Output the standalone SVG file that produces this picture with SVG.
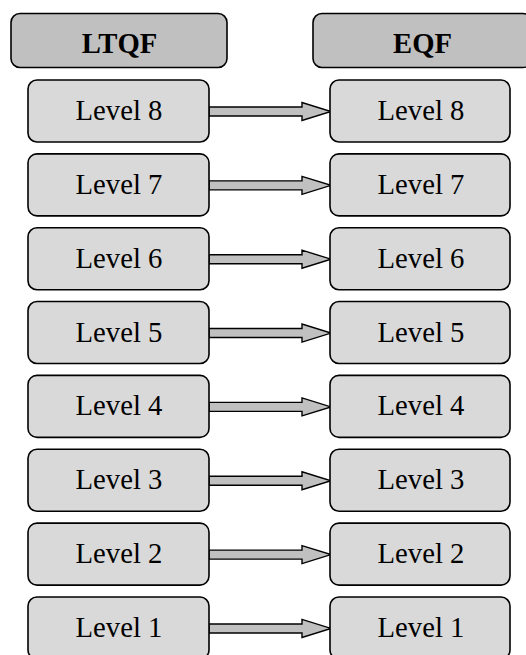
<svg xmlns="http://www.w3.org/2000/svg" width="526" height="655" viewBox="0 0 526 655">
<defs>
<style>
.hdr{fill:#c0c0c0;stroke:#000;stroke-width:1.6}
.box{fill:#d9d9d9;stroke:#000;stroke-width:1.6}
.arr{fill:#c0c0c0;stroke:#000;stroke-width:1.4;stroke-linejoin:miter}
.ht{font-family:"Liberation Serif","Times New Roman",serif;font-weight:bold;font-size:28.7px;text-anchor:middle;fill:#000}
.lt{font-family:"Liberation Serif","Times New Roman",serif;font-size:28.7px;text-anchor:middle;fill:#000}
</style>
<polygon id="arrowShape" class="arr" points="209,27 302,27 302,22.5 331,31.5 302,40.5 302,36 209,36"/>
</defs>
<rect width="526" height="655" fill="#fff"/>
<g id="connectors">
<use href="#arrowShape" transform="translate(0,80)"/>
<use href="#arrowShape" transform="translate(0,153.85)"/>
<use href="#arrowShape" transform="translate(0,227.7)"/>
<use href="#arrowShape" transform="translate(0,301.55)"/>
<use href="#arrowShape" transform="translate(0,375.4)"/>
<use href="#arrowShape" transform="translate(0,449.25)"/>
<use href="#arrowShape" transform="translate(0,523.1)"/>
<use href="#arrowShape" transform="translate(0,596.95)"/>
</g>
<g id="hdr-ltqf"><rect class="hdr" x="11" y="13.5" width="216" height="54" rx="9"/><text class="ht" x="119.5" y="53">LTQF</text></g>
<g id="hdr-eqf"><rect class="hdr" x="313" y="13.5" width="219" height="54" rx="9"/><text class="ht" x="422.5" y="53">EQF</text></g>
<g id="ltqf-8" transform="translate(0,80)"><rect class="box" x="28" y="0" width="181" height="62" rx="9"/><text class="lt" x="119" y="40">Level 8</text></g>
<g id="eqf-8" transform="translate(0,80)"><rect class="box" x="330" y="0" width="180" height="62" rx="9"/><text class="lt" x="421" y="40">Level 8</text></g>
<g id="ltqf-7" transform="translate(0,153.85)"><rect class="box" x="28" y="0" width="181" height="62" rx="9"/><text class="lt" x="119" y="40">Level 7</text></g>
<g id="eqf-7" transform="translate(0,153.85)"><rect class="box" x="330" y="0" width="180" height="62" rx="9"/><text class="lt" x="421" y="40">Level 7</text></g>
<g id="ltqf-6" transform="translate(0,227.7)"><rect class="box" x="28" y="0" width="181" height="62" rx="9"/><text class="lt" x="119" y="40">Level 6</text></g>
<g id="eqf-6" transform="translate(0,227.7)"><rect class="box" x="330" y="0" width="180" height="62" rx="9"/><text class="lt" x="421" y="40">Level 6</text></g>
<g id="ltqf-5" transform="translate(0,301.55)"><rect class="box" x="28" y="0" width="181" height="62" rx="9"/><text class="lt" x="119" y="40">Level 5</text></g>
<g id="eqf-5" transform="translate(0,301.55)"><rect class="box" x="330" y="0" width="180" height="62" rx="9"/><text class="lt" x="421" y="40">Level 5</text></g>
<g id="ltqf-4" transform="translate(0,375.4)"><rect class="box" x="28" y="0" width="181" height="62" rx="9"/><text class="lt" x="119" y="40">Level 4</text></g>
<g id="eqf-4" transform="translate(0,375.4)"><rect class="box" x="330" y="0" width="180" height="62" rx="9"/><text class="lt" x="421" y="40">Level 4</text></g>
<g id="ltqf-3" transform="translate(0,449.25)"><rect class="box" x="28" y="0" width="181" height="62" rx="9"/><text class="lt" x="119" y="40">Level 3</text></g>
<g id="eqf-3" transform="translate(0,449.25)"><rect class="box" x="330" y="0" width="180" height="62" rx="9"/><text class="lt" x="421" y="40">Level 3</text></g>
<g id="ltqf-2" transform="translate(0,523.1)"><rect class="box" x="28" y="0" width="181" height="62" rx="9"/><text class="lt" x="119" y="40">Level 2</text></g>
<g id="eqf-2" transform="translate(0,523.1)"><rect class="box" x="330" y="0" width="180" height="62" rx="9"/><text class="lt" x="421" y="40">Level 2</text></g>
<g id="ltqf-1" transform="translate(0,596.95)"><rect class="box" x="28" y="0" width="181" height="62" rx="9"/><text class="lt" x="119" y="40">Level 1</text></g>
<g id="eqf-1" transform="translate(0,596.95)"><rect class="box" x="330" y="0" width="180" height="62" rx="9"/><text class="lt" x="421" y="40">Level 1</text></g>
</svg>
